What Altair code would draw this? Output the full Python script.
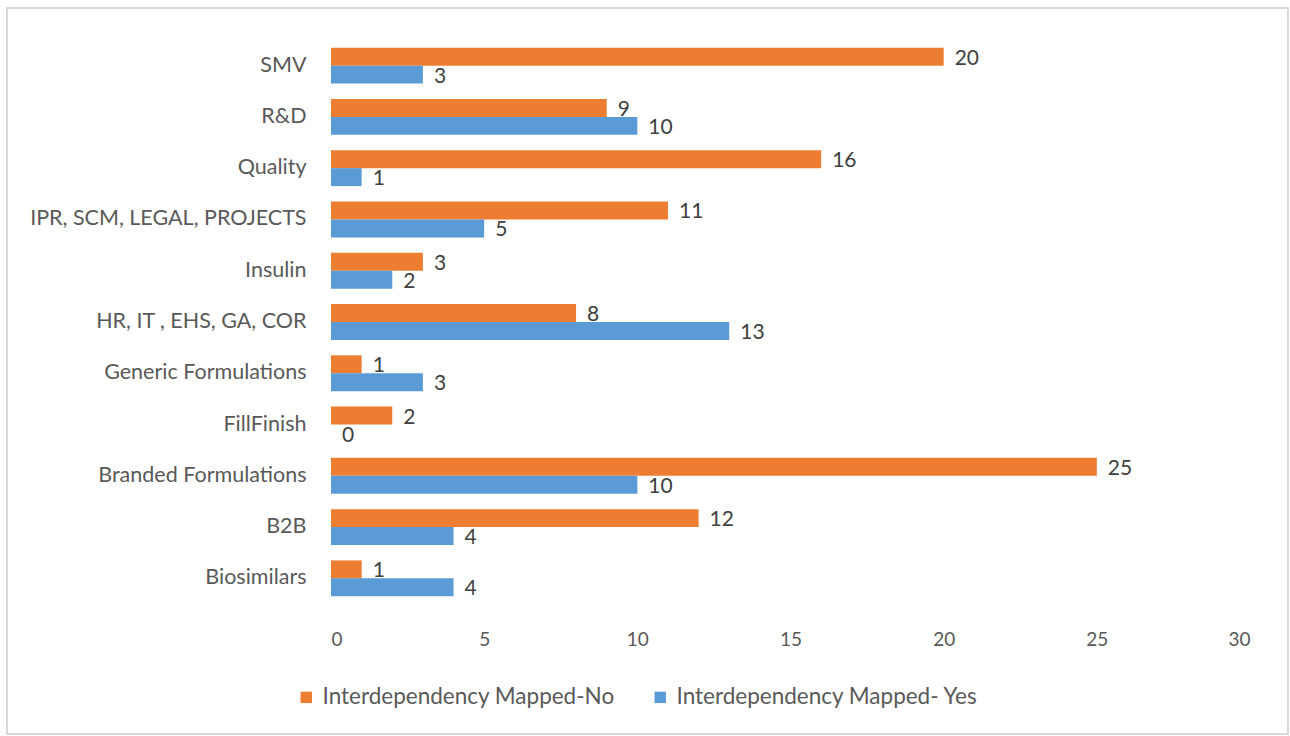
import altair as alt
import pandas as pd

categories = ["SMV", "R&D", "Quality", "IPR, SCM, LEGAL, PROJECTS", "Insulin",
              "HR, IT , EHS, GA, COR", "Generic Formulations", "FillFinish",
              "Branded Formulations", "B2B", "Biosimilars"]
mapped_no = [20, 9, 16, 11, 3, 8, 1, 2, 25, 12, 1]
mapped_yes = [3, 10, 1, 5, 2, 13, 3, 0, 10, 4, 4]
series = ["Interdependency Mapped-No", "Interdependency Mapped- Yes"]
colors = ["#ED7D31", "#5B9BD5"]
x_ticks = [0, 5, 10, 15, 20, 25, 30]

rows = []
for c, n, y in zip(categories, mapped_no, mapped_yes):
    rows.append({"cat": c, "series": series[0], "value": n})
    rows.append({"cat": c, "series": series[1], "value": y})
df = pd.DataFrame(rows)

FONT = "Lato"
GRAY = "#595959"

y_enc = alt.Y("cat:N", sort=categories, title=None,
              scale=alt.Scale(paddingInner=0.3, paddingOuter=0.15),
              axis=alt.Axis(labelFont=FONT, labelFontSize=21.5, labelColor=GRAY,
                            ticks=False, domain=False, labelPadding=25,
                            labelLimit=400))
yoff = alt.YOffset("series:N", sort=series, scale=alt.Scale(domain=series))
x_enc = alt.X("value:Q", title=None,
              scale=alt.Scale(domain=[0, 30], nice=False),
              axis=alt.Axis(values=x_ticks, grid=False, ticks=False, domain=False,
                            labelFont=FONT, labelFontSize=19, labelColor=GRAY,
                            labelPadding=26, format="d"))

bars = alt.Chart(df).mark_bar().encode(
    x=x_enc, y=y_enc, yOffset=yoff,
    color=alt.Color("series:N", sort=series,
                    scale=alt.Scale(domain=series, range=colors),
                    legend=alt.Legend(title=None, orient="none", direction="horizontal",
                                      legendX=-36, legendY=646,
                                      symbolType="square", symbolSize=130,
                                      symbolStrokeWidth=0, labelLimit=500,
                                      labelFont=FONT, labelFontSize=22.5, labelColor=GRAY,
                                      columnPadding=34, labelOffset=5)),
)

labels = alt.Chart(df).mark_text(align="left", baseline="middle", dx=11, dy=2,
                                 font=FONT, fontSize=21, color="#404040").encode(
    x="value:Q", y=alt.Y("cat:N", sort=categories), yOffset=yoff,
    text="value:Q",
)

frame = alt.Chart(pd.DataFrame({"a": [0]})).mark_rect(
    fill=None, stroke="#d9d9d9", strokeWidth=2).encode(
    x=alt.value(-324), x2=alt.value(957), y=alt.value(-32), y2=alt.value(694))

chart = alt.layer(frame, bars, labels).properties(
    width=919, height=564,
    autosize=alt.AutoSizeParams(type="none"),
    padding={"left": 331, "top": 40, "right": 40, "bottom": 132},
    background="white",
).configure_view(stroke=None)

chart.save("out.html", embed_options={"renderer": "svg", "actions": False})
